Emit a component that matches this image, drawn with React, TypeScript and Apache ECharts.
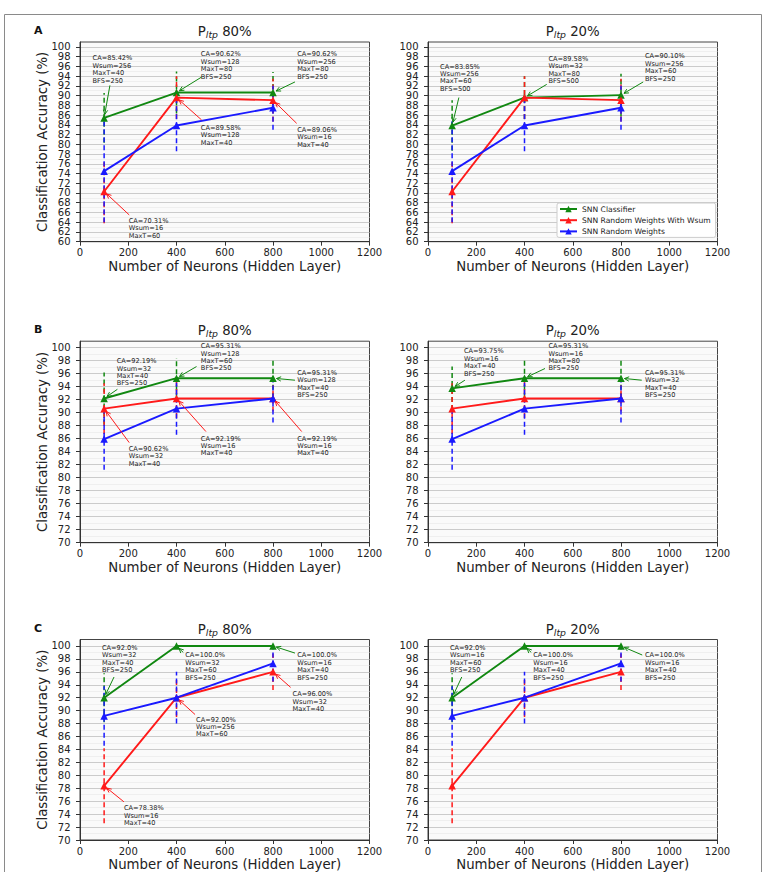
import React, { useEffect, useRef } from 'react';
import * as echarts from 'echarts';

const FONT = 'DejaVu Sans';

// Hidden-layer sizes tested
const neurons = [100, 400, 800];
const seriesNames = ['SNN Classifier', 'SNN Random Weights With Wsum', 'SNN Random Weights'];
const seriesColors = ['#118811', '#ff1a1a', '#1a1aff'];

// Classification accuracy (%), row A
const classifierA80 = [85.42, 90.62, 90.62];
const classifierA20 = [83.85, 89.58, 90.1];
const randomWsumA = [70.31, 89.58, 89.06];
const randomA = [74.48, 83.85, 87.5];
// row B
const classifierB80 = [92.19, 95.31, 95.31];
const classifierB20 = [93.75, 95.31, 95.31];
const randomWsumB = [90.62, 92.19, 92.19];
const randomB = [85.94, 90.62, 92.19];
// row C
const classifierC80 = [92.0, 100.0, 100.0];
const classifierC20 = [92.0, 100.0, 100.0];
const randomWsumC = [78.38, 92.0, 96.0];
const randomC = [89.19, 92.0, 97.3];

// Error-bar half widths (%)
const classifierErrA80 = [5.1, 4.3, 4.2];
const classifierErrA20 = [5.2, 4.4, 4.4];
const randomWsumErrA = [6.5, 4.4, 4.4];
const randomErrA = [10.5, 5.3, 4.5];
const classifierErrB80 = [4.0, 3.1, 3.0];
const classifierErrB20 = [3.35, 3.0, 3.0];
const randomWsumErrB = [3.9, 3.0, 2.0];
const randomErrB = [4.7, 4.0, 3.7];
const classifierErrC80 = [3.8, 0, 0];
const classifierErrC20 = [3.8, 0, 0];
const randomWsumErrC = [5.8, 3.0, 2.8];
const randomErrC = [4.6, 4.0, 2.8];

// Best-parameter notes: series, point, decimals, parameters, text anchor and arrow tail (data units)
type Note = { s: number; i: number; d: number; extra: string; at: number[]; from: number[] };
const notesA80: Note[] = [
  { s: 0, i: 0, d: 2, extra: 'Wsum=256\nMaxT=40\nBFS=250', at: [52, 98.4], from: [124, 92.1] },
  { s: 0, i: 1, d: 2, extra: 'Wsum=128\nMaxT=80\nBFS=250', at: [501, 99.2], from: [504, 93.8] },
  { s: 0, i: 2, d: 2, extra: 'Wsum=256\nMaxT=80\nBFS=250', at: [900, 99.2], from: [891, 92.8] },
  { s: 1, i: 0, d: 2, extra: 'Wsum=16\nMaxT=60', at: [202, 65.0], from: [204, 65.5] },
  { s: 1, i: 1, d: 2, extra: 'Wsum=128\nMaxT=40', at: [501, 84.1], from: [504, 85.0] },
  { s: 1, i: 2, d: 2, extra: 'Wsum=16\nMaxT=40', at: [900, 83.7], from: [898, 84.3] },
];
const notesA20: Note[] = [
  { s: 0, i: 0, d: 2, extra: 'Wsum=256\nMaxT=60\nBFS=500', at: [50, 96.7], from: [128, 89.6] },
  { s: 0, i: 1, d: 2, extra: 'Wsum=32\nMaxT=80\nBFS=500', at: [499, 98.3], from: [492, 92.3] },
  { s: 0, i: 2, d: 2, extra: 'Wsum=256\nMaxT=60\nBFS=250', at: [899, 98.8], from: [892, 92.8] },
];
const notesB80: Note[] = [
  { s: 0, i: 0, d: 2, extra: 'Wsum=32\nMaxT=40\nBFS=250', at: [152, 98.5], from: [155, 93.6] },
  { s: 0, i: 1, d: 2, extra: 'Wsum=128\nMaxT=60\nBFS=250', at: [501, 100.8], from: [483, 97.1] },
  { s: 0, i: 2, d: 2, extra: 'Wsum=128\nMaxT=40\nBFS=250', at: [900, 96.7], from: [891, 95.0] },
  { s: 1, i: 0, d: 2, extra: 'Wsum=32\nMaxT=40', at: [202, 85.0], from: [204, 85.4] },
  { s: 1, i: 1, d: 2, extra: 'Wsum=16\nMaxT=40', at: [501, 86.6], from: [522, 87.1] },
  { s: 1, i: 2, d: 2, extra: 'Wsum=16\nMaxT=40', at: [900, 86.6], from: [919, 87.1] },
];
const notesB20: Note[] = [
  { s: 0, i: 0, d: 2, extra: 'Wsum=16\nMaxT=40\nBFS=250', at: [149, 100.0], from: [153, 95.0] },
  { s: 0, i: 1, d: 2, extra: 'Wsum=16\nMaxT=80\nBFS=250', at: [499, 100.8], from: [485, 96.8] },
  { s: 0, i: 2, d: 2, extra: 'Wsum=32\nMaxT=40\nBFS=250', at: [899, 96.7], from: [886, 95.0] },
];
const notesC80: Note[] = [
  { s: 0, i: 0, d: 1, extra: 'Wsum=32\nMaxT=40\nBFS=250', at: [91, 100.3], from: [141, 95.2] },
  { s: 0, i: 1, d: 1, extra: 'Wsum=32\nMaxT=60\nBFS=250', at: [436, 99.1], from: [428, 99.0] },
  { s: 0, i: 2, d: 1, extra: 'Wsum=16\nMaxT=40\nBFS=250', at: [900, 99.1], from: [891, 98.9] },
  { s: 1, i: 0, d: 2, extra: 'Wsum=16\nMaxT=40', at: [182, 75.5], from: [182, 75.9] },
  { s: 1, i: 1, d: 2, extra: 'Wsum=256\nMaxT=60', at: [481, 89.2], from: [477, 89.4] },
  { s: 1, i: 2, d: 2, extra: 'Wsum=32\nMaxT=40', at: [881, 93.1], from: [873, 93.6] },
];
const notesC20: Note[] = [
  { s: 0, i: 0, d: 1, extra: 'Wsum=16\nMaxT=60\nBFS=250', at: [91, 100.3], from: [140, 95.2] },
  { s: 0, i: 1, d: 1, extra: 'Wsum=16\nMaxT=40\nBFS=250', at: [436, 99.1], from: [428, 99.0] },
  { s: 0, i: 2, d: 1, extra: 'Wsum=16\nMaxT=40\nBFS=250', at: [899, 99.1], from: [888, 98.6] },
];

const panels = [
  { letter: 'A', ltp: 80, yMin: 60, values: [classifierA80, randomWsumA, randomA], errors: [classifierErrA80, randomWsumErrA, randomErrA], notes: notesA80 },
  { letter: '', ltp: 20, yMin: 60, values: [classifierA20, randomWsumA, randomA], errors: [classifierErrA20, randomWsumErrA, randomErrA], notes: notesA20 },
  { letter: 'B', ltp: 80, yMin: 70, values: [classifierB80, randomWsumB, randomB], errors: [classifierErrB80, randomWsumErrB, randomErrB], notes: notesB80 },
  { letter: '', ltp: 20, yMin: 70, values: [classifierB20, randomWsumB, randomB], errors: [classifierErrB20, randomWsumErrB, randomErrB], notes: notesB20 },
  { letter: 'C', ltp: 80, yMin: 70, values: [classifierC80, randomWsumC, randomC], errors: [classifierErrC80, randomWsumErrC, randomErrC], notes: notesC80 },
  { letter: '', ltp: 20, yMin: 70, values: [classifierC20, randomWsumC, randomC], errors: [classifierErrC20, randomWsumErrC, randomErrC], notes: notesC20 },
];

const layout = [
  { left: 80, top: 42, width: 289.5, height: 199.7, titleTop: 23 },
  { left: 428, top: 42, width: 289.5, height: 199.7, titleTop: 23 },
  { left: 80, top: 341.2, width: 289.5, height: 201.5, titleTop: 322 },
  { left: 428, top: 341.2, width: 289.5, height: 201.5, titleTop: 322 },
  { left: 80, top: 639.5, width: 289.5, height: 201.5, titleTop: 621 },
  { left: 428, top: 639.5, width: 289.5, height: 201.5, titleTop: 621 },
];

function evenTicks(min: number) {
  const out: number[] = [];
  for (let v = min; v <= 100; v += 2) out.push(v);
  return out;
}

function buildOption() {
  const grid: any[] = [];
  const xAxis: any[] = [];
  const yAxis: any[] = [];
  const series: any[] = [];
  const title: any[] = [];
  const graphic: any[] = [
    { type: 'rect', shape: { x: 4.5, y: 14.5, width: 757, height: 880 }, style: { fill: 'none', stroke: '#8a8a8a', lineWidth: 1 }, silent: true },
  ];

  panels.forEach((p, k) => {
    const box = layout[k];
    const isLeft = k % 2 === 0;
    const ticks = evenTicks(p.yMin);
    grid.push({
      left: box.left, top: box.top, width: box.width, height: box.height,
      show: true, backgroundColor: '#fafafa', borderColor: '#444', borderWidth: 1,
    });
    xAxis.push({
      type: 'value', gridIndex: k, min: 0, max: 1200, interval: 200,
      axisLine: { show: true, onZero: false, lineStyle: { color: '#333', width: 1 } },
      axisTick: { show: true, length: 4, lineStyle: { color: '#333' } },
      axisLabel: {
        fontSize: 10, color: '#222', margin: 6, fontFamily: FONT,
        showMinLabel: true, showMaxLabel: true, formatter: (v: number) => String(v),
      },
      splitLine: { show: false },
      name: 'Number of Neurons (Hidden Layer)', nameLocation: 'middle', nameGap: 18,
      nameTextStyle: { fontSize: 13.3, color: '#222', fontFamily: FONT },
    });
    // y tick labels are drawn by the tick-label series below so that every even value is kept
    yAxis.push({
      type: 'value', gridIndex: k, min: p.yMin, max: 101, interval: 2,
      axisLine: { show: true, onZero: false, lineStyle: { color: '#333', width: 1 } },
      axisTick: { show: true, length: 4, lineStyle: { color: '#333' }, customValues: ticks },
      axisLabel: { show: false },
      splitLine: { show: true, lineStyle: { color: '#cbcbcb', width: 1.2 } },
      minorTick: { show: false, splitNumber: 2 },
      minorSplitLine: { show: true, lineStyle: { color: '#ececec', width: 0.8 } },
      name: isLeft ? 'Classification Accuracy (%)' : '', nameLocation: 'middle', nameGap: 31,
      nameTextStyle: { fontSize: 13.3, color: '#222', fontFamily: FONT },
    });
    title.push({
      text: `{p|P}{s|ltp}{p| ${p.ltp}%}`,
      left: box.left + box.width / 2, top: box.titleTop, textAlign: 'center', padding: 0,
      textStyle: {
        fontWeight: 'normal',
        rich: {
          p: { fontSize: 13.3, fontWeight: 'normal', fontFamily: FONT, color: '#222', lineHeight: 16 },
          s: { fontSize: 9.3, fontWeight: 'normal', fontStyle: 'italic', fontFamily: FONT, color: '#222', lineHeight: 16, padding: [7, 0, 0, 0] },
        },
      },
    });
    if (p.letter) {
      graphic.push({
        type: 'text', left: 34, top: box.top - 17,
        style: { text: p.letter, font: `bold 11px ${FONT}`, fill: '#111' },
      });
    }

    // y tick labels
    series.push({
      type: 'custom', xAxisIndex: k, yAxisIndex: k, z: 1, silent: true, clip: false,
      data: ticks.map((v) => [0, v]), encode: { x: 0, y: 1 },
      renderItem: (_params: any, api: any) => {
        const v = api.value(1);
        const c = api.coord([0, v]);
        return {
          type: 'text', x: c[0] - 9.5, y: c[1],
          style: { text: String(v), fontSize: 10, fontFamily: FONT, fill: '#222', align: 'right', verticalAlign: 'middle' },
        };
      },
    });

    // error bars
    const errData: number[][] = [];
    p.values.forEach((vals, s) => vals.forEach((v, i) => errData.push([neurons[i], v, p.errors[s][i], s])));
    series.push({
      type: 'custom', xAxisIndex: k, yAxisIndex: k, z: 1, silent: true,
      data: errData, encode: { x: 0, y: 1 },
      renderItem: (_params: any, api: any) => {
        const x = api.value(0), y = api.value(1), e = api.value(2), s = api.value(3);
        if (!e) return null;
        const a = api.coord([x, y - e]);
        const b = api.coord([x, y + e]);
        return {
          type: 'line', shape: { x1: a[0], y1: a[1], x2: b[0], y2: b[1] },
          style: { stroke: seriesColors[s], lineWidth: 1.5, lineDash: [5, 3] },
        };
      },
    });

    // lines with triangle markers
    p.values.forEach((vals, s) => {
      series.push({
        type: 'line', name: seriesNames[s], xAxisIndex: k, yAxisIndex: k, z: 3 + s * 0.1,
        data: vals.map((v, i) => [neurons[i], v]),
        symbol: 'triangle', symbolSize: 7.5,
        lineStyle: { width: 1.9, color: seriesColors[s] },
        itemStyle: { color: seriesColors[s] },
        emphasis: { disabled: true }, silent: true,
      });
    });

    // annotations with arrows
    const notes = p.notes;
    series.push({
      type: 'custom', xAxisIndex: k, yAxisIndex: k, z: 5, silent: true,
      data: notes.map((n) => [neurons[n.i], p.values[n.s][n.i]]), encode: { x: 0, y: 1 },
      renderItem: (params: any, api: any) => {
        const n = notes[params.dataIndex];
        const v = p.values[n.s][n.i];
        const color = seriesColors[n.s];
        const pt = api.coord([neurons[n.i], v]);
        const tx = api.coord(n.at);
        const tail = api.coord(n.from);
        const dx = pt[0] - tail[0], dy = pt[1] - tail[1];
        const len = Math.sqrt(dx * dx + dy * dy) || 1;
        const ux = dx / len, uy = dy / len;
        const tip = [pt[0] - ux * 3.5, pt[1] - uy * 3.5];
        const hl = 5, ang = 0.45;
        const cos = Math.cos(ang), sin = Math.sin(ang);
        const h1 = [tip[0] - hl * (ux * cos - uy * sin), tip[1] - hl * (uy * cos + ux * sin)];
        const h2 = [tip[0] - hl * (ux * cos + uy * sin), tip[1] - hl * (uy * cos - ux * sin)];
        return {
          type: 'group',
          children: [
            { type: 'line', shape: { x1: tail[0], y1: tail[1], x2: tip[0], y2: tip[1] }, style: { stroke: color, lineWidth: 1 } },
            { type: 'polyline', shape: { points: [h1, tip, h2] }, style: { stroke: color, lineWidth: 1, fill: null } },
            {
              type: 'text', x: tx[0], y: tx[1],
              style: {
                text: `CA=${v.toFixed(n.d)}%\n${n.extra}`, fontSize: 6.6, lineHeight: 7.4,
                fontFamily: FONT, fill: '#222', align: 'left', verticalAlign: 'top',
              },
            },
          ],
        };
      },
    });
  });

  return {
    animation: false,
    backgroundColor: '#ffffff',
    grid, xAxis, yAxis, series, title, graphic,
    legend: {
      data: seriesNames, orient: 'vertical', left: 557, top: 203,
      itemWidth: 17, itemHeight: 8, itemGap: 3.2, selectedMode: false,
      textStyle: { fontSize: 7.6, fontFamily: FONT, color: '#222' },
      padding: [2, 5, 2, 2], borderColor: '#cccccc', borderWidth: 1, borderRadius: 2,
      backgroundColor: '#ffffff',
    },
  };
}

export default function App() {
  const ref = useRef<HTMLDivElement>(null);
  useEffect(() => {
    document.body.style.margin = '0';
    if (!ref.current) return;
    const chart = echarts.init(ref.current, null, { renderer: 'svg' });
    chart.setOption(buildOption() as any);
    return () => chart.dispose();
  }, []);
  return <div ref={ref} style={{ width: 770, height: 872 }} />;
}
